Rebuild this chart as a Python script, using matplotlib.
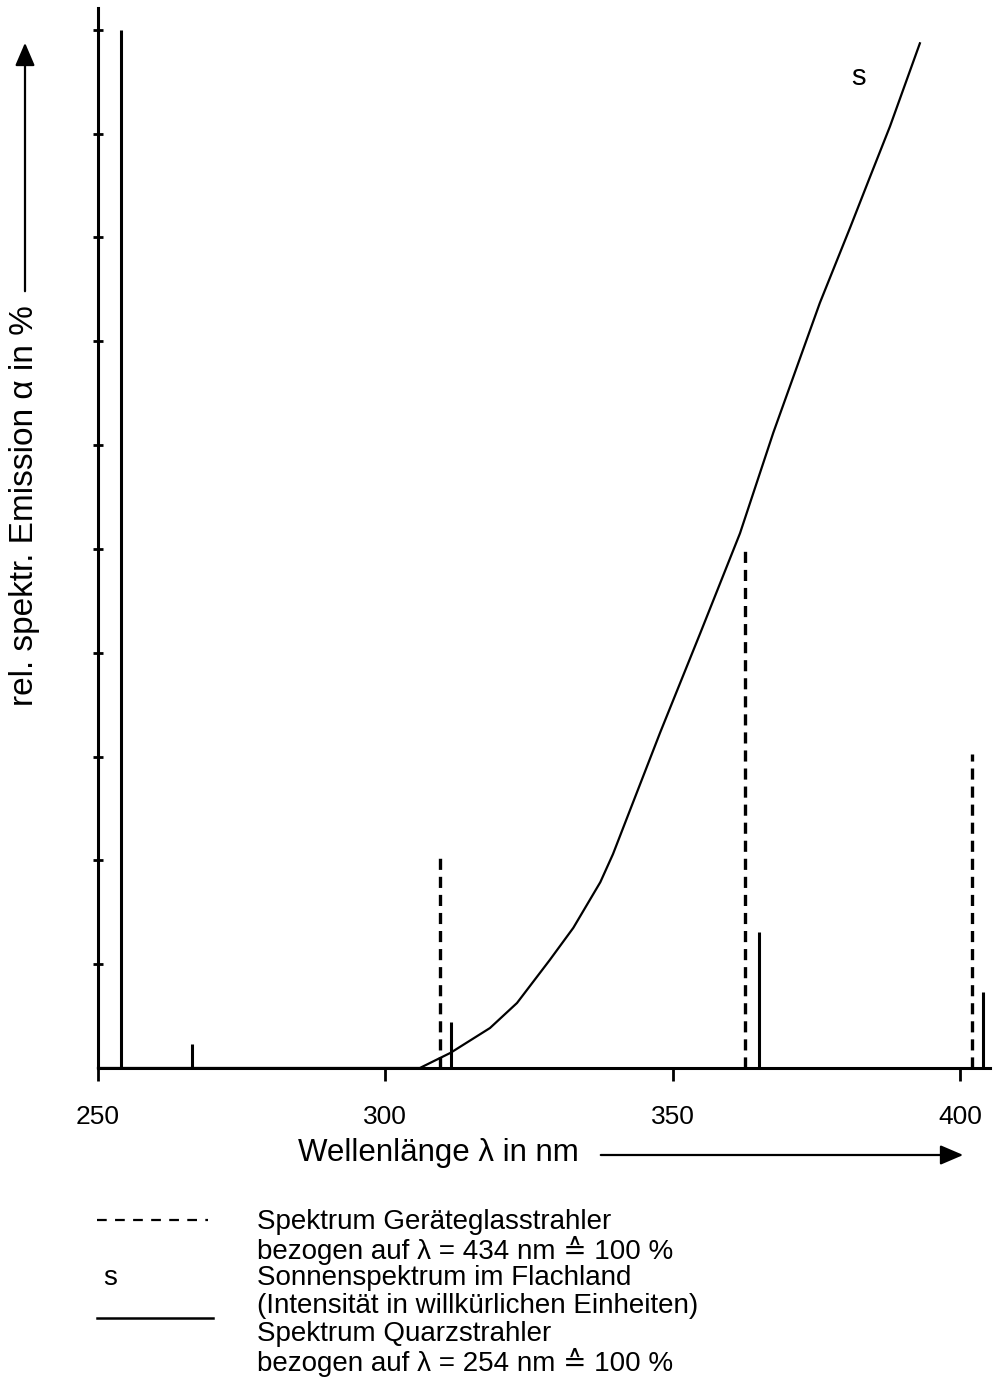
import matplotlib
matplotlib.use("Agg")
import matplotlib.pyplot as plt
from matplotlib.lines import Line2D
from matplotlib.patches import FancyArrowPatch

plt.rcParams['font.family'] = ['Liberation Sans', 'DejaVu Sans']
plt.rcParams['lines.scale_dashes'] = False

# Quarzstrahler (solid lines), % of 254 nm
quarz_wl = [254, 266.4, 311.5, 365, 404]
quarz_val = [100, 2.3, 4.4, 13.1, 7.3]

# Geräteglasstrahler (dashed lines), % of 434 nm
glas_wl = [309.5, 362.5, 402]
glas_val = [20.2, 50.4, 30.2]

# Sonnenspektrum (arbitrary units)
sonne_wl = [250, 306.0, 309.5, 311.3, 318.2, 322.9, 328.6, 332.7, 337.4, 339.6,
            341.7, 347.8, 354.8, 361.7, 367.5, 375.6, 380.9, 384.3, 387.8, 393.0]
sonne_val = [0, 0, 0.96, 1.45, 3.85, 6.26, 10.4, 13.5, 17.9, 20.6,
             23.6, 32.3, 41.9, 51.5, 61.2, 73.7, 81.0, 85.8, 90.7, 98.7]

x_ticks = [250, 300, 350, 400]
y_ticks = [10, 20, 30, 40, 50, 60, 70, 80, 90, 100]

W, H = 993, 1391


def fx(px):
    return px / W


def fy(py):
    return 1 - py / H


fig = plt.figure(figsize=(W / 100, H / 100), dpi=100)
ax = fig.add_axes([fx(98), fy(1068), fx(990) - fx(98), fy(8) - fy(1068)])

ax.plot(sonne_wl, sonne_val, '-', color='black', linewidth=1.6, clip_on=False)
ax.vlines(quarz_wl, 0, quarz_val, color='black', linewidth=2.2)
ax.vlines(glas_wl, 0, glas_val, color='black', linewidth=2.4, linestyles=[(0, (8, 5))])

ax.set_xlim(250, 405.2)
ax.set_ylim(0, 102.1)

for s in ['top', 'right']:
    ax.spines[s].set_visible(False)
for s in ['left', 'bottom']:
    ax.spines[s].set_linewidth(2.2)

ax.set_xticks(x_ticks)
ax.set_yticks(y_ticks)
ax.set_yticklabels([])
ax.tick_params(axis='x', direction='out', length=9, width=2, pad=18, labelsize=19)
ax.tick_params(axis='y', direction='inout', length=7, width=2)

# curve label
fig.text(fx(858), fy(77), 's', fontsize=21, ha='center', va='center')

# axis labels with arrows
fig.text(fx(438), fy(1153), 'Wellenlänge λ in nm', fontsize=22.5, ha='center', va='center')
fig.add_artist(FancyArrowPatch(
    (fx(598), fy(1155)), (fx(966), fy(1155)), transform=fig.transFigure,
    arrowstyle='-|>,head_length=14,head_width=6', mutation_scale=1, color='black', linewidth=1.6))

fig.text(fx(25), fy(506), 'rel. spektr. Emission α in %', fontsize=24, rotation=90,
         ha='center', va='center')
fig.add_artist(FancyArrowPatch(
    (fx(25), fy(294)), (fx(25), fy(40)), transform=fig.transFigure,
    arrowstyle='-|>,head_length=14,head_width=6', mutation_scale=1, color='black', linewidth=1.6))

# legend
fig.add_artist(Line2D([fx(97), fx(208)], [fy(1220), fy(1220)], transform=fig.transFigure,
                      color='black', linewidth=1.6, dashes=(7, 6)))
fig.text(fx(110), fy(1278), 's', fontsize=20, ha='center', va='center')
fig.add_artist(Line2D([fx(97), fx(213)], [fy(1318), fy(1318)], transform=fig.transFigure,
                      color='black', linewidth=1.8))

legend_lines = [
    'Spektrum Geräteglasstrahler',
    'bezogen auf λ = 434 nm ≙ 100 %',
    'Sonnenspektrum im Flachland',
    '(Intensität in willkürlichen Einheiten)',
    'Spektrum Quarzstrahler',
    'bezogen auf λ = 254 nm ≙ 100 %',
]
for i, t in enumerate(legend_lines):
    fig.text(fx(257), fy(1222 + i * 28), t, fontsize=20, ha='left', va='center')

fig.savefig('out.png', dpi=100)
